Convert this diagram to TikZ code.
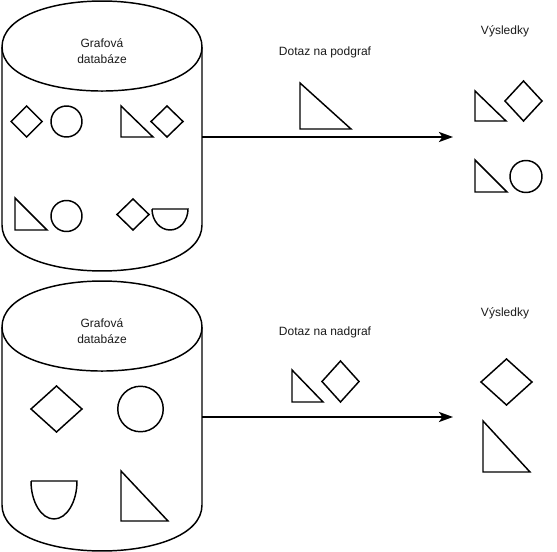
\documentclass[tikz,border=0pt]{standalone}
\usepackage{fontspec}
\setmainfont{Liberation Sans}
\usepackage{xcolor}
\usetikzlibrary{arrows.meta}
\definecolor{dbink}{HTML}{000000}
\definecolor{dbtext}{HTML}{1A1A1A}
\tikzset{
  shp/.style  ={draw=dbink,line width=1.1pt,line join=miter},
  lbl/.style  ={font=\fontsize{9}{12}\selectfont,text=dbtext,align=center,inner sep=0pt},
  arr/.style  ={-{Stealth[length=10.5pt,width=7.5pt,inset=2.5pt]},line width=1.7pt,draw=dbink},
}
% shapes: right triangle, diamond, half ellipse, graph database cylinder
\newcommand{\rtri}[4]{\draw[shp] (#1,#2) -- (#1,#4) -- (#3,#4) -- cycle;}
\newcommand{\diam}[4]{\draw[shp] ({#1-#3},#2) -- (#1,{#2-#4}) -- ({#1+#3},#2) -- (#1,{#2+#4}) -- cycle;}
\newcommand{\halfell}[4]{\draw[shp] ({#1-#3},#2) -- ({#1+#3},#2) arc[start angle=0,end angle=180,x radius=#3,y radius=#4];}
\newcommand{\dbcyl}{%
  \draw[shp] (2,46) .. controls (2,-15.3) and (202,-15.3) .. (202,46)
    -- (202,224) .. controls (202,285.3) and (2,285.3) .. (2,224) -- cycle;
  \draw[shp] (2,46) .. controls (2,104.7) and (202,104.7) .. (202,46);}

\begin{document}
\begin{tikzpicture}[x=0.75pt,y=-0.75pt]
  \useasboundingbox (0,0) rectangle (557,552);

  % subgraph query
  \begin{scope}[shift={(0,1)}]
    \dbcyl
  \end{scope}
  \node[lbl] (db1) at (102,51) {Grafová\\databáze};
  \diam{26.7}{121.5}{15.5}{15.5}
  \draw[shp] (66.5,121.5) circle[radius=15.5];
  \rtri{121}{106}{153}{137}
  \diam{167}{121.5}{16}{15.5}
  \rtri{15}{198}{47}{230}
  \draw[shp] (66.5,216) circle[radius=15.5];
  \diam{133}{214.5}{16}{15.5}
  \halfell{170}{209}{18}{21}

  \node[lbl] (q1) at (325,52) {Dotaz na podgraf};
  \rtri{300}{83}{351}{129}
  \node[lbl] (res1) at (505,31) {Výsledky};
  \rtri{475}{91}{506}{121}
  \diam{523.5}{101}{18.5}{20}
  \rtri{475}{160}{507}{192}
  \draw[shp] (526,176.5) circle[radius=16];

  \coordinate (db1out) at (202,137);
  \coordinate (res1in) at (453,137);
  \draw[arr] (db1out) -- (res1in);

  % supergraph query
  \begin{scope}[shift={(0,281)}]
    \dbcyl
  \end{scope}
  \node[lbl] (db2) at (102,331) {Grafová\\databáze};
  \diam{56.5}{409}{25.5}{23}
  \draw[shp] (140.5,409) circle[radius=22.75];
  \halfell{54}{481}{23}{38}
  \rtri{121}{471}{168}{521}

  \node[lbl] (q2) at (325,332) {Dotaz na nadgraf};
  \rtri{292}{370}{323}{402}
  \diam{340.5}{381.5}{18.5}{20.5}
  \node[lbl] (res2) at (505,313) {Výsledky};
  \diam{506.5}{382}{25.5}{23}
  \rtri{483}{421}{530}{472}

  \coordinate (db2out) at (202,417);
  \coordinate (res2in) at (453,417);
  \draw[arr] (db2out) -- (res2in);
\end{tikzpicture}
\end{document}
